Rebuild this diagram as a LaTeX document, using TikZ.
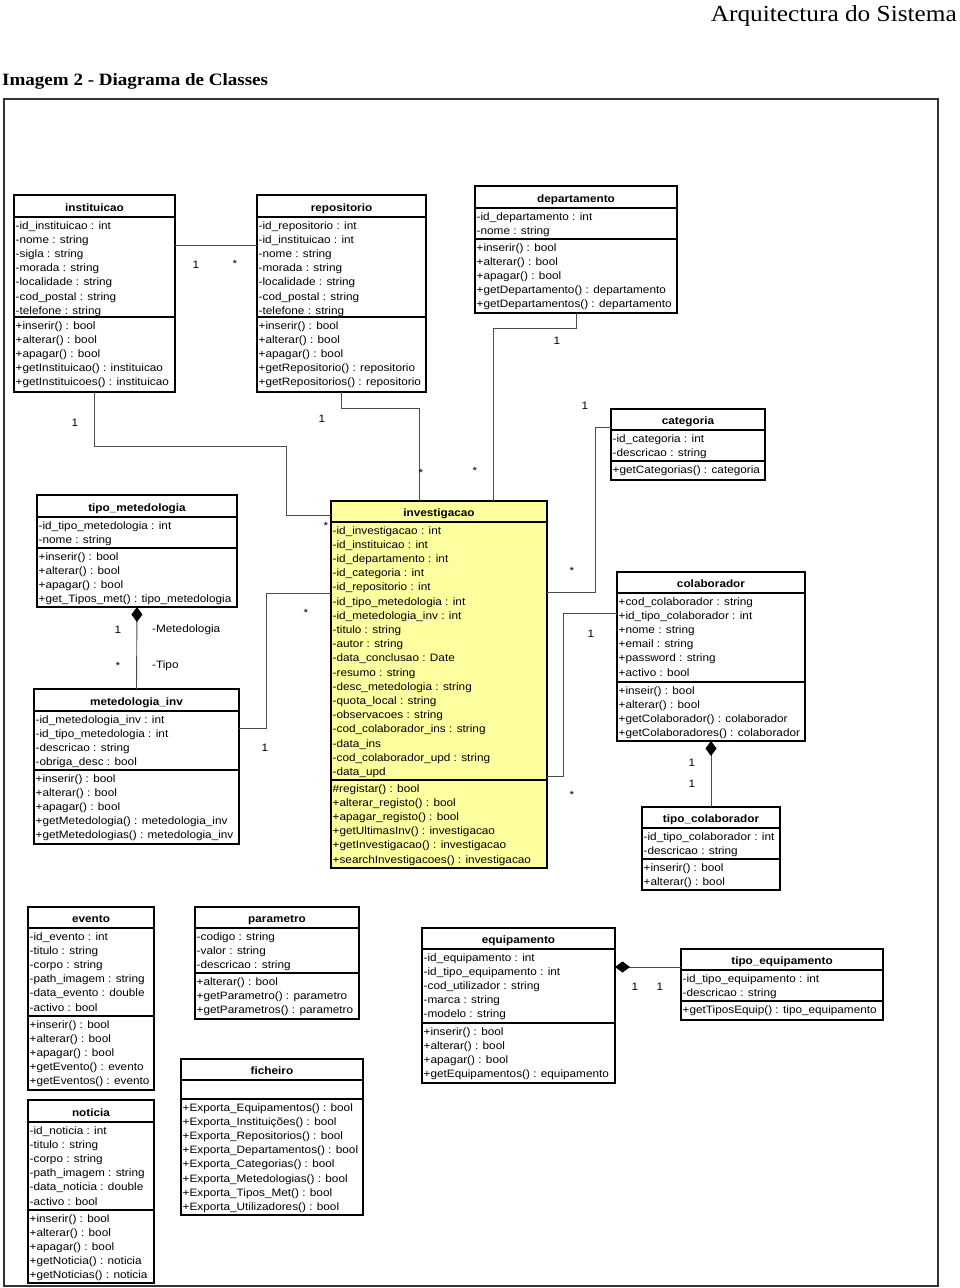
\documentclass[tikz,border=0pt]{standalone}
\usepackage{fontspec}
\setmainfont[FakeStretch=1.1]{Liberation Sans}
\newfontfamily\serifT[FakeStretch=1.1]{Liberation Serif}
\usetikzlibrary{arrows.meta}
\definecolor{invyellow}{RGB}{255,255,160}
\tikzset{
 classbox/.style={draw=black, line width=1.1pt, inner sep=0pt, outer sep=0pt},
 boxline/.style={draw=black, line width=1.1pt},
 cltext/.style={inner sep=0pt, font=\fontsize{10.7}{12}\selectfont, anchor=base west},
 cltitle/.style={inner sep=0pt, font=\fontsize{10.7}{12}\selectfont\bfseries, anchor=base},
 conn/.style={draw=black!70, line width=0.9pt},
 mult/.style={inner sep=0pt, font=\fontsize{10.7}{12}\selectfont},
 comp/.style={conn, {Diamond[length=15pt,width=11pt,fill=black,color=black]}-},
}
% #1 fill, #2 name, #3 left, #4 top, #5 right, #6 bottom, #7 header bottom, #8 divider, #9 title
\newcommand\ucls[9][white]{%
 \node[classbox, fill=#1, minimum width={(#5-#3)*1pt}, minimum height={(#6-#4)*1pt}, anchor=north west] (#2) at (#3,#4) {};
 \draw[boxline] (#3,#7) -- (#5,#7);
 \draw[boxline] (#3,#8) -- (#5,#8);
 \node[cltitle] (#2-t) at ({(#3+#5)/2},#7-6) {#9};
 \xdef\curleft{#3}\xdef\curhb{#7}\xdef\curdiv{#8}\xdef\curname{#2}%
}
\newcommand\uattrs[1]{%
 \foreach \t [count=\i] in {#1} \node[cltext] (\curname-a\i) at (\curleft+1.5, \curhb+12+\i*14.2-14.2) {\t};
}
\newcommand\umeths[1]{%
 \foreach \t [count=\i] in {#1} \node[cltext] (\curname-m\i) at (\curleft+1.5, \curdiv+12+\i*14.2-14.2) {\t};
}
\begin{document}
\begin{tikzpicture}[x=1pt, y=-1pt]
\useasboundingbox (0,0) rectangle (960,1288);
\node[inner sep=0pt, anchor=base east, font=\serifT\fontsize{23}{26}\selectfont] (head) at (957,21) {Arquitectura do Sistema};
\node[inner sep=0pt, anchor=base west, font=\serifT\bfseries\fontsize{17.3}{20}\selectfont] (caption) at (2,85) {Imagem 2 - Diagrama de Classes};
\draw[line width=1.2pt, black!80] (4,99) rectangle (938,1286);

% classes
\ucls{inst}{14}{195}{175}{392}{217}{317}{instituicao}
\uattrs{-id\_instituicao : int, -nome : string, -sigla : string, -morada : string, -localidade : string, -cod\_postal : string, -telefone : string}
\umeths{+inserir() : bool, +alterar() : bool, +apagar() : bool, +getInstituicao() : instituicao, +getInstituicoes() : instituicao}

\ucls{repo}{257}{195}{426}{392}{217}{317}{repositorio}
\uattrs{-id\_repositorio : int, -id\_instituicao : int, -nome : string, -morada : string, -localidade : string, -cod\_postal : string, -telefone : string}
\umeths{+inserir() : bool, +alterar() : bool, +apagar() : bool, +getRepositorio() : repositorio, +getRepositorios() : repositorio}

\ucls{dept}{475}{186}{677}{313}{208}{239}{departamento}
\uattrs{-id\_departamento : int, -nome : string}
\umeths{+inserir() : bool, +alterar() : bool, +apagar() : bool, +getDepartamento() : departamento, +getDepartamentos() : departamento}

\ucls{cat}{611}{409}{765}{480}{430}{461}{categoria}
\uattrs{-id\_categoria : int, -descricao : string}
\umeths{+getCategorias() : categoria}

\ucls{tmet}{37}{495}{237}{607}{517}{548}{tipo\_metedologia}
\uattrs{-id\_tipo\_metedologia : int, -nome : string}
\umeths{+inserir() : bool, +alterar() : bool, +apagar() : bool, +get\_Tipos\_met() : tipo\_metedologia}

\ucls{minv}{34}{689}{239}{844}{711}{770}{metedologia\_inv}
\uattrs{-id\_metedologia\_inv : int, -id\_tipo\_metedologia : int, -descricao : string, -obriga\_desc : bool}
\umeths{+inserir() : bool, +alterar() : bool, +apagar() : bool, +getMetedologia() : metedologia\_inv, +getMetedologias() : metedologia\_inv}

\ucls[invyellow]{inv}{331}{501}{547}{868}{522}{780}{investigacao}
\uattrs{-id\_investigacao : int, -id\_instituicao : int, -id\_departamento : int, -id\_categoria : int, -id\_repositorio : int, -id\_tipo\_metedologia : int, -id\_metedologia\_inv : int, -titulo : string, -autor : string, -data\_conclusao : Date, -resumo : string, -desc\_metedologia : string, -quota\_local : string, -observacoes : string, -cod\_colaborador\_ins : string, -data\_ins, -cod\_colaborador\_upd : string, -data\_upd}
\umeths{\#registar() : bool, +alterar\_registo() : bool, +apagar\_registo() : bool, +getUltimasInv() : investigacao, +getInvestigacao() : investigacao, +searchInvestigacoes() : investigacao}

\ucls{col}{617}{572}{805}{741}{593}{682}{colaborador}
\uattrs{+cod\_colaborador : string, +id\_tipo\_colaborador : int, +nome : string, +email : string, +password : string, +activo : bool}
\umeths{+inseir() : bool, +alterar() : bool, +getColaborador() : colaborador, +getColaboradores() : colaborador}

\ucls{tcol}{642}{807}{780}{890}{828}{859}{tipo\_colaborador}
\uattrs{-id\_tipo\_colaborador : int, -descricao : string}
\umeths{+inserir() : bool, +alterar() : bool}

\ucls{evt}{28}{907}{154}{1090}{928}{1016}{evento}
\uattrs{-id\_evento : int, -titulo : string, -corpo : string, -path\_imagem : string, -data\_evento : double, -activo : bool}
\umeths{+inserir() : bool, +alterar() : bool, +apagar() : bool, +getEvento() : evento, +getEventos() : evento}

\ucls{not}{28}{1100}{154}{1283}{1122}{1210}{noticia}
\uattrs{-id\_noticia : int, -titulo : string, -corpo : string, -path\_imagem : string, -data\_noticia : double, -activo : bool}
\umeths{+inserir() : bool, +alterar() : bool, +apagar() : bool, +getNoticia() : noticia, +getNoticias() : noticia}

\ucls{par}{195}{907}{359}{1019}{928}{973}{parametro}
\uattrs{-codigo : string, -valor : string, -descricao : string}
\umeths{+alterar() : bool, +getParametro() : parametro, +getParametros() : parametro}

\ucls{fich}{181}{1059}{363}{1215}{1080}{1099}{ficheiro}
\umeths{+Exporta\_Equipamentos() : bool, +Exporta\_Instituições() : bool, +Exporta\_Repositorios() : bool, +Exporta\_Departamentos() : bool, +Exporta\_Categorias() : bool, +Exporta\_Metedologias() : bool, +Exporta\_Tipos\_Met() : bool, +Exporta\_Utilizadores() : bool}

\ucls{equip}{422}{928}{615}{1083}{949}{1023}{equipamento}
\uattrs{-id\_equipamento : int, -id\_tipo\_equipamento : int, -cod\_utilizador : string, -marca : string, -modelo : string}
\umeths{+inserir() : bool, +alterar() : bool, +apagar() : bool, +getEquipamentos() : equipamento}

\ucls{tequip}{681}{949}{883}{1020}{970}{1001}{tipo\_equipamento}
\uattrs{-id\_tipo\_equipamento : int, -descricao : string}
\umeths{+getTiposEquip() : tipo\_equipamento}

% connectors
\draw[conn] (inst.east |- 0,245) -- (repo.west |- 0,245);
\draw[conn] (inst.south) |- (286,446) |- (inv.west |- 0,515);
\draw[conn] (repo.south) |- (419,408) -- (inv.north -| 419,0);
\draw[conn] (dept.south) |- (493,328) -- (inv.north -| 493,0);
\draw[conn] (cat.west |- 0,427) -| (595,592) -- (inv.east |- 0,592);
\draw[conn] (col.west |- 0,613) -| (563,776) -- (inv.east |- 0,776);
\draw[conn] (minv.east |- 0,728) -| (266,593) -- (inv.west |- 0,593);
\draw[comp] (tmet.south) -- (minv.north);
\draw[comp] (col.south) -- (tcol.north);
\draw[comp] (equip.east |- 0,967) -- (tequip.west |- 0,967);

% multiplicities
\node[mult] (l1) at (196,265) {1};
\node[mult] (l2) at (235,264) {*};
\node[mult] (l3) at (75,423) {1};
\node[mult] (l4) at (326,526) {*};
\node[mult] (l5) at (322,419) {1};
\node[mult] (l6) at (421,473) {*};
\node[mult] (l7) at (557,341) {1};
\node[mult] (l8) at (475,471) {*};
\node[mult] (l9) at (585,406) {1};
\node[mult] (l10) at (572,571) {*};
\node[mult] (l11) at (591,634) {1};
\node[mult] (l12) at (572,795) {*};
\node[mult] (l13) at (306,613) {*};
\node[mult] (l14) at (265,748) {1};
\node[mult] (l15) at (118,630) {1};
\node[mult, anchor=west] (l16) at (152,630) {-Metedologia};
\node[mult] (l17) at (118,666) {*};
\node[mult, anchor=west] (l18) at (152,666) {-Tipo};
\node[mult] (l19) at (692,763) {1};
\node[mult] (l20) at (692,784) {1};
\node[mult] (l21) at (635,987) {1};
\node[mult] (l22) at (660,987) {1};
\end{tikzpicture}
\end{document}
